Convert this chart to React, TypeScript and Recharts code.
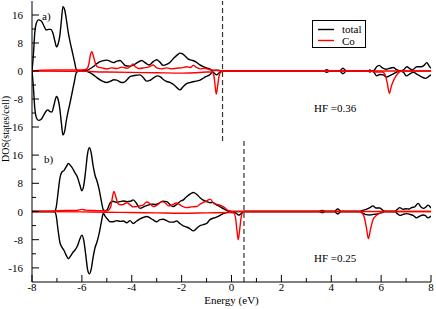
import { Label, Line, LineChart, ReferenceLine, XAxis, YAxis } from "recharts";

type Pt = [number, number];

const energyTicks = [-8, -7, -6, -5, -4, -3, -2, -1, 0, 1, 2, 3, 4, 5, 6, 7, 8];
const dosTicks = [-16, -12, -8, -4, 0, 4, 8, 12, 16];
const seriesNames = ["total", "Co"];
const panelLabels = ["a)", "b)"];
const hfLabels = ["HF =0.36", "HF =0.25"];
const fermiLevels = [-0.36, 0.5];

// panel a) — spin up positive, spin down negative
const aTotalUp: Pt[] = [
  [-8, 0], [-7.95, 4], [-7.89, 10.8], [-7.82, 13.8], [-7.74, 14.6], [-7.63, 14.3], [-7.53, 13], [-7.43, 11.7],
  [-7.33, 11.9], [-7.25, 11.9], [-7.16, 10.8], [-7.08, 8.5], [-7.02, 6.9], [-6.95, 7.8], [-6.89, 9.8], [-6.82, 14.5],
  [-6.76, 18.4], [-6.69, 17.5], [-6.62, 14.6], [-6.55, 11.2], [-6.49, 8.9], [-6.4, 6], [-6.3, 2.8], [-6.22, 0.4],
  [-6.1, 0], [-5.85, 0], [-5.75, 0.3], [-5.55, 1.2], [-5.4, 2.1], [-5.27, 2.7], [-5.1, 3.0], [-5.0, 3.1],
  [-4.85, 2.7], [-4.74, 2.4], [-4.6, 2.8], [-4.47, 3.0], [-4.35, 2.2], [-4.25, 1.5], [-4.1, 1.4], [-3.95, 1.6],
  [-3.8, 2.3], [-3.6, 3.0], [-3.45, 2.3], [-3.3, 1.7], [-3.15, 2.6], [-3.0, 3.2], [-2.88, 2.6], [-2.74, 1.6],
  [-2.6, 1.9], [-2.45, 2.6], [-2.3, 3.8], [-2.17, 4.6], [-2.07, 5.1], [-1.95, 4.8], [-1.85, 4.2], [-1.73, 3.4],
  [-1.6, 3.1], [-1.45, 2.7], [-1.3, 1.9], [-1.15, 1.3], [-1.0, 0.9], [-0.86, 0.5], [-0.75, 0.1], [-0.6, 0.2],
  [-0.45, 0.1], [-0.3, 0], [3.7, 0], [3.82, 0.4], [3.94, 0], [4.33, 0], [4.47, 0.8], [4.61, 0], [5.47, 0],
  [5.55, 0.3], [5.63, 0], [5.72, 0.2], [5.82, 1.2], [5.92, 1.6], [6.05, 0.9], [6.2, 0.5], [6.35, 0.8], [6.49, 1.0],
  [6.62, 0.4], [6.76, 0], [6.9, 0.3], [7.03, 1.2], [7.15, 0.7], [7.25, 0.3], [7.43, 1.2], [7.6, 1.2], [7.72, 1.6],
  [7.83, 2.4], [7.93, 1.4], [8, 0.8],
];
const aTotalDown: Pt[] = [
  [-8, 0], [-7.95, -4], [-7.89, -10.5], [-7.82, -13.4], [-7.74, -14.1], [-7.63, -13.8], [-7.53, -12.6], [-7.43, -11.4],
  [-7.36, -11.1], [-7.28, -11.6], [-7.2, -11.7], [-7.12, -9.8], [-7.02, -7.3], [-6.95, -8.2], [-6.89, -10.5],
  [-6.82, -15], [-6.76, -18.3], [-6.69, -17.2], [-6.62, -14], [-6.55, -11.5], [-6.49, -9.6], [-6.4, -6.5],
  [-6.3, -3], [-6.22, -0.4], [-6.1, 0], [-5.85, 0], [-5.7, -0.4], [-5.54, -1.1], [-5.4, -1.9], [-5.2, -2.8],
  [-5.0, -3.3], [-4.85, -2.9], [-4.72, -2.5], [-4.6, -2.6], [-4.45, -3.2], [-4.34, -3.3], [-4.2, -2.6], [-4.07, -1.6],
  [-3.9, -1.3], [-3.67, -1.1], [-3.55, -1.8], [-3.4, -2.9], [-3.25, -2.6], [-3.1, -1.8], [-2.95, -1.4], [-2.85, -1.7],
  [-2.72, -2.5], [-2.6, -3.0], [-2.45, -3.3], [-2.3, -4.0], [-2.17, -4.9], [-2.07, -5.4], [-1.95, -4.6], [-1.8, -3.6],
  [-1.66, -3.3], [-1.5, -3.0], [-1.26, -2.6], [-1.05, -1.7], [-0.86, -1.0], [-0.76, -0.3], [-0.68, -0.7], [-0.6, -1.1],
  [-0.52, -0.7], [-0.42, -0.1], [-0.3, 0], [3.7, 0], [3.82, -0.4], [3.94, 0], [4.33, 0], [4.47, -0.8], [4.61, 0],
  [5.47, 0], [5.55, -0.3], [5.63, 0], [5.72, -0.4], [5.82, -1.4], [5.95, -1.0], [6.08, -1.1], [6.22, -1.7],
  [6.35, -1.3], [6.49, -0.8], [6.62, -0.3], [6.76, 0], [6.9, -0.4], [7.02, -1.4], [7.15, -0.8], [7.3, -0.4],
  [7.45, -1.0], [7.6, -1.6], [7.78, -2.1], [7.9, -1.6], [8, -1.1],
];
const aCoUp: Pt[] = [
  [-8, 0], [-7.6, 0.2], [-7.0, 0.3], [-6.5, 0.3], [-6.0, 0.3], [-5.82, 0.5], [-5.72, 2.0], [-5.66, 4.5], [-5.6, 5.5],
  [-5.53, 4.0], [-5.45, 2.0], [-5.35, 1.1], [-5.2, 0.9], [-5.0, 0.6], [-4.8, 0.9], [-4.6, 0.7], [-4.4, 1.1],
  [-4.2, 0.8], [-4.05, 1.3], [-3.95, 2.0], [-3.85, 1.2], [-3.7, 0.7], [-3.5, 0.9], [-3.3, 1.2], [-3.14, 1.7],
  [-3.0, 0.9], [-2.8, 0.6], [-2.6, 0.9], [-2.4, 0.6], [-2.2, 0.8], [-2.0, 0.9], [-1.8, 1.2], [-1.65, 1.0],
  [-1.53, 1.6], [-1.4, 1.0], [-1.25, 0.6], [-1.1, 0.8], [-0.9, 0.4], [-0.7, 0.2], [-0.45, 0.1], [-0.3, 0], [8, 0],
];
const aCoDown: Pt[] = [
  [-8, 0], [-6.5, -0.1], [-5.8, -0.1], [-5.5, -0.2], [-5.0, -0.3], [-4.0, -0.4], [-3.0, -0.5], [-2.0, -0.6],
  [-1.5, -0.5], [-1.0, -0.3], [-0.78, -0.3], [-0.71, -1.2], [-0.66, -4.0], [-0.61, -6.6], [-0.56, -4.5],
  [-0.5, -1.5], [-0.43, -0.3], [-0.3, 0], [5.5, 0], [5.7, -0.2], [5.9, -0.3], [6.05, -0.3], [6.15, -0.9],
  [6.25, -3.6], [6.33, -6.4], [6.42, -4.1], [6.52, -2.4], [6.62, -1.2], [6.75, -0.2], [6.85, 0], [8, 0],
];

// panel b)
const bTotalUp: Pt[] = [
  [-8, 0], [-7.1, 0], [-7.03, 1.2], [-6.96, 5], [-6.88, 9.5], [-6.8, 11.2], [-6.72, 11.6], [-6.62, 12.8],
  [-6.54, 13.6], [-6.45, 13.0], [-6.37, 12.2], [-6.28, 11.0], [-6.18, 9.8], [-6.08, 7.5], [-6.0, 5.9], [-5.93, 7.2],
  [-5.85, 11.5], [-5.77, 16.5], [-5.7, 18.1], [-5.63, 16.8], [-5.55, 13], [-5.47, 10.2], [-5.4, 8.8], [-5.3, 6],
  [-5.22, 3], [-5.14, 0.5], [-5.05, 0.1], [-4.97, 0.7], [-4.87, 2.4], [-4.75, 2.9], [-4.6, 2.6], [-4.47, 2.8],
  [-4.34, 3.0], [-4.2, 2.8], [-4.05, 2.9], [-3.94, 3.3], [-3.8, 2.2], [-3.67, 0.9], [-3.5, 1.4], [-3.35, 1.8],
  [-3.2, 2.1], [-3.05, 2.0], [-2.9, 2.4], [-2.75, 2.9], [-2.6, 2.8], [-2.47, 2.0], [-2.34, 1.4], [-2.2, 2.0],
  [-2.05, 2.9], [-1.93, 3.3], [-1.8, 4.2], [-1.65, 5.0], [-1.53, 5.4], [-1.4, 4.9], [-1.26, 3.9], [-1.13, 3.2],
  [-1.0, 2.8], [-0.86, 2.5], [-0.75, 2.6], [-0.6, 1.9], [-0.46, 1.4], [-0.33, 0.8], [-0.19, 0.3], [-0.06, 0],
  [3.5, 0], [3.64, 0.3], [3.78, 0], [4.12, 0], [4.26, 0.7], [4.4, 0], [5.1, 0], [5.25, 0.3], [5.4, 0.6], [5.55, 1.1],
  [5.67, 1.6], [5.8, 1.0], [5.95, 1.0], [6.07, 0.3], [6.18, 0], [6.55, 0], [6.65, 0.6], [6.75, 1.1], [6.88, 0.6],
  [7.0, 0.8], [7.12, 0.7], [7.22, 1.1], [7.35, 1.3], [7.48, 2.3], [7.6, 1.3], [7.7, 0.9], [7.8, 1.3], [7.88, 1.8],
  [8, 1.0],
];
const bTotalDown: Pt[] = [
  [-8, 0], [-7.1, 0], [-7.03, -1.2], [-6.96, -5], [-6.88, -8.8], [-6.81, -10], [-6.72, -11], [-6.62, -12.5],
  [-6.54, -13.4], [-6.45, -12.6], [-6.36, -11.6], [-6.28, -11], [-6.18, -9.8], [-6.08, -7.8], [-6.0, -6.7],
  [-5.93, -8], [-5.85, -12], [-5.77, -16.5], [-5.7, -17.7], [-5.63, -16.5], [-5.55, -13], [-5.47, -10.2],
  [-5.4, -8.8], [-5.3, -6], [-5.22, -3], [-5.14, -0.5], [-5.07, -1.3], [-4.97, -2.2], [-4.87, -2.9], [-4.74, -2.9],
  [-4.6, -2.6], [-4.47, -2.8], [-4.34, -2.7], [-4.2, -3.2], [-4.07, -2.6], [-3.94, -3.4], [-3.8, -2.7],
  [-3.67, -2.1], [-3.55, -1.7], [-3.4, -1.4], [-3.27, -1.8], [-3.14, -2.4], [-3.0, -2.9], [-2.87, -2.3],
  [-2.74, -2.2], [-2.6, -2.6], [-2.47, -3.0], [-2.34, -3.0], [-2.2, -2.7], [-2.07, -3.4], [-1.93, -4.1],
  [-1.8, -4.4], [-1.66, -4.9], [-1.53, -5.5], [-1.4, -4.8], [-1.26, -4.0], [-1.13, -3.7], [-1.0, -3.4],
  [-0.86, -2.3], [-0.73, -1.9], [-0.6, -1.6], [-0.46, -1.1], [-0.33, -0.6], [-0.19, -0.3], [-0.06, 0],
  [0.12, -0.2], [0.22, -0.7], [0.31, -1.0], [0.4, -0.5], [0.5, 0], [3.5, 0], [3.64, -0.3], [3.78, 0], [4.12, 0],
  [4.26, -0.7], [4.4, 0], [5.1, 0], [5.25, -0.4], [5.4, -0.9], [5.55, -1.0], [5.7, -0.8], [5.85, -0.7], [6.0, -0.4],
  [6.15, 0], [6.55, 0], [6.65, -0.6], [6.76, -1.1], [6.88, -0.8], [7.02, -0.6], [7.15, -0.8], [7.28, -1.1],
  [7.42, -1.8], [7.55, -1.3], [7.68, -1.0], [7.78, -1.2], [7.88, -1.8], [8, -1.3],
];
const bCoUp: Pt[] = [
  [-8, 0], [-7.2, 0.1], [-6.6, 0.3], [-6.2, 0.3], [-6.0, 0.6], [-5.85, 0.4], [-5.5, 0.3], [-5.15, 0.2],
  [-4.95, 0.3], [-4.85, 1.2], [-4.78, 3.8], [-4.72, 5.7], [-4.64, 4.2], [-4.56, 2.3], [-4.47, 1.9], [-4.35, 2.0],
  [-4.2, 2.5], [-4.05, 1.8], [-3.94, 1.3], [-3.75, 1.5], [-3.55, 1.8], [-3.4, 2.7], [-3.27, 2.2], [-3.14, 1.4],
  [-2.95, 2.0], [-2.8, 2.8], [-2.65, 2.4], [-2.53, 1.6], [-2.4, 1.8], [-2.2, 2.4], [-2.0, 1.6], [-1.8, 1.1],
  [-1.6, 1.3], [-1.4, 1.4], [-1.26, 2.1], [-1.13, 2.6], [-1.0, 3.0], [-0.85, 3.5], [-0.7, 2.2], [-0.55, 2.0],
  [-0.4, 1.6], [-0.28, 1.1], [-0.14, 0.3], [0, 0], [8, 0],
];
const bCoDown: Pt[] = [
  [-8, 0], [-6, -0.1], [-5, -0.2], [-4, -0.3], [-3, -0.4], [-2, -0.5], [-1, -0.4], [0, -0.3], [0.1, -0.5],
  [0.17, -2.2], [0.22, -5.5], [0.27, -8.0], [0.33, -5.0], [0.39, -1.5], [0.46, -0.2], [0.55, 0], [5.1, 0],
  [5.22, -0.3], [5.32, -1.5], [5.41, -4.6], [5.49, -7.7], [5.57, -5.2], [5.66, -2.6], [5.78, -1.3], [5.93, -0.5],
  [6.08, -0.1], [6.2, 0], [8, 0],
];

const FONT = "'Liberation Serif', 'Times New Roman', serif";
const RED = "#ff0000";

const toRows = (pts: Pt[]) => pts.map(([e, v]) => ({ e, v }));

// ticks point inward; dir is +1 (down/right) or -1 (up/left)
function ETick(props: any) {
  const { x, y, payload, dir, labels } = props;
  const v = payload.value as number;
  const major = v % 2 === 0;
  const len = major ? 7 : 4;
  return (
    <g>
      <line x1={x} y1={y} x2={x} y2={y + dir * len} stroke="#000" />
      {labels && major && (
        <text x={x} y={y + 9} textAnchor="middle" fontSize={11} fontFamily={FONT} fill="#000">
          {v}
        </text>
      )}
    </g>
  );
}

function DTick(props: any) {
  const { x, y, payload, dir, labels } = props;
  const v = payload.value as number;
  const major = v % 8 === 0;
  const len = major ? 7 : 4;
  return (
    <g>
      <line x1={x} y1={y} x2={x + dir * len} y2={y} stroke="#000" />
      {labels && major && (
        <text x={x - 9} y={y + 4} textAnchor="end" fontSize={11} fontFamily={FONT} fill="#000">
          {v}
        </text>
      )}
    </g>
  );
}

interface PanelProps {
  top: number;
  height: number;
  margin: { top: number; right: number; bottom: number; left: number };
  axisHeight: number;
  totalUp: Pt[];
  totalDown: Pt[];
  coUp: Pt[];
  coDown: Pt[];
  fermi: number;
  showX: boolean;
}

function Panel({ top, height, margin, axisHeight, totalUp, totalDown, coUp, coDown, fermi, showX }: PanelProps) {
  const line = { type: "monotone" as const, dataKey: "v", dot: false, isAnimationActive: false, strokeWidth: 1.4 };
  return (
    <div style={{ position: "absolute", left: 0, top }}>
      <LineChart width={436} height={height} margin={margin}>
        <XAxis
          dataKey="e"
          type="number"
          domain={[-8, 8]}
          allowDataOverflow
          ticks={energyTicks}
          interval={0}
          height={axisHeight}
          tickSize={0}
          tickMargin={0}
          tickLine={false}
          axisLine={{ stroke: "#000" }}
          tick={(p: any) => <ETick {...p} dir={-1} labels={showX} />}
        >
          {showX && <Label value="Energy (eV)" position="insideBottom" offset={5.5} fontSize={11} fontFamily={FONT} fill="#000" />}
        </XAxis>
        <XAxis
          xAxisId="t"
          orientation="top"
          dataKey="e"
          type="number"
          domain={[-8, 8]}
          allowDataOverflow
          ticks={energyTicks}
          interval={0}
          height={0}
          tickSize={0}
          tickMargin={0}
          tickLine={false}
          axisLine={{ stroke: "#000" }}
          tick={(p: any) => <ETick {...p} dir={1} labels={false} />}
        />
        <YAxis
          type="number"
          domain={[-20, 20]}
          allowDataOverflow
          ticks={dosTicks}
          interval={0}
          width={32}
          tickSize={0}
          tickMargin={0}
          tickLine={false}
          axisLine={{ stroke: "#000" }}
          tick={(p: any) => <DTick {...p} dir={1} labels />}
        />
        <YAxis
          yAxisId="r"
          orientation="right"
          type="number"
          domain={[-20, 20]}
          allowDataOverflow
          ticks={dosTicks}
          interval={0}
          width={0}
          tickSize={0}
          tickMargin={0}
          tickLine={false}
          axisLine={{ stroke: "#000" }}
          tick={(p: any) => <DTick {...p} dir={-1} labels={false} />}
        />
        <ReferenceLine x={fermi} stroke="#333" strokeDasharray="5 3" strokeWidth={1.2} />
        <Line {...line} data={toRows(totalDown)} stroke="#000" name="total down" />
        <Line {...line} data={toRows(totalUp)} stroke="#000" name="total up" />
        <Line {...line} data={toRows(coDown)} stroke={RED} name="Co down" />
        <Line {...line} data={toRows(coUp)} stroke={RED} name="Co up" />
      </LineChart>
    </div>
  );
}

export default function App() {
  return (
    <div style={{ position: "absolute", left: 0, top: 0, width: 436, height: 309, background: "#fff", fontFamily: FONT }}>
      <Panel
        top={0}
        height={142}
        margin={{ top: 1, right: 5, bottom: 1, left: 0 }}
        axisHeight={0}
        totalUp={aTotalUp}
        totalDown={aTotalDown}
        coUp={aCoUp}
        coDown={aCoDown}
        fermi={fermiLevels[0]}
        showX={false}
      />
      <Panel
        top={141}
        height={168}
        margin={{ top: 0, right: 5, bottom: 0, left: 0 }}
        axisHeight={27}
        totalUp={bTotalUp}
        totalDown={bTotalDown}
        coUp={bCoUp}
        coDown={bCoDown}
        fermi={fermiLevels[1]}
        showX
      />
      <svg width={436} height={309} style={{ position: "absolute", left: 0, top: 0, pointerEvents: "none" }}>
        <g fontFamily={FONT} fontSize={11} fill="#000">
          <text x={42} y={20}>{panelLabels[0]}</text>
          <text x={44} y={163}>{panelLabels[1]}</text>
          <text x={314} y={111.5}>{hfLabels[0]}</text>
          <text x={314} y={262}>{hfLabels[1]}</text>
          <text x={8.5} y={129} transform="rotate(-90 8.5 129)" textAnchor="middle" fontSize={10}>
            DOS(states/cell)
          </text>
        </g>
        <rect x={312.5} y={20.5} width={53} height={27} fill="#fff" stroke="#000" />
        <line x1={318} y1={29.5} x2={334} y2={29.5} stroke="#000" strokeWidth={1.4} />
        <line x1={318} y1={40.5} x2={334} y2={40.5} stroke={RED} strokeWidth={1.4} />
        <text x={342} y={33} fontFamily={FONT} fontSize={11} fill="#000">{seriesNames[0]}</text>
        <text x={342} y={44.5} fontFamily={FONT} fontSize={11} fill="#000">{seriesNames[1]}</text>
      </svg>
    </div>
  );
}
